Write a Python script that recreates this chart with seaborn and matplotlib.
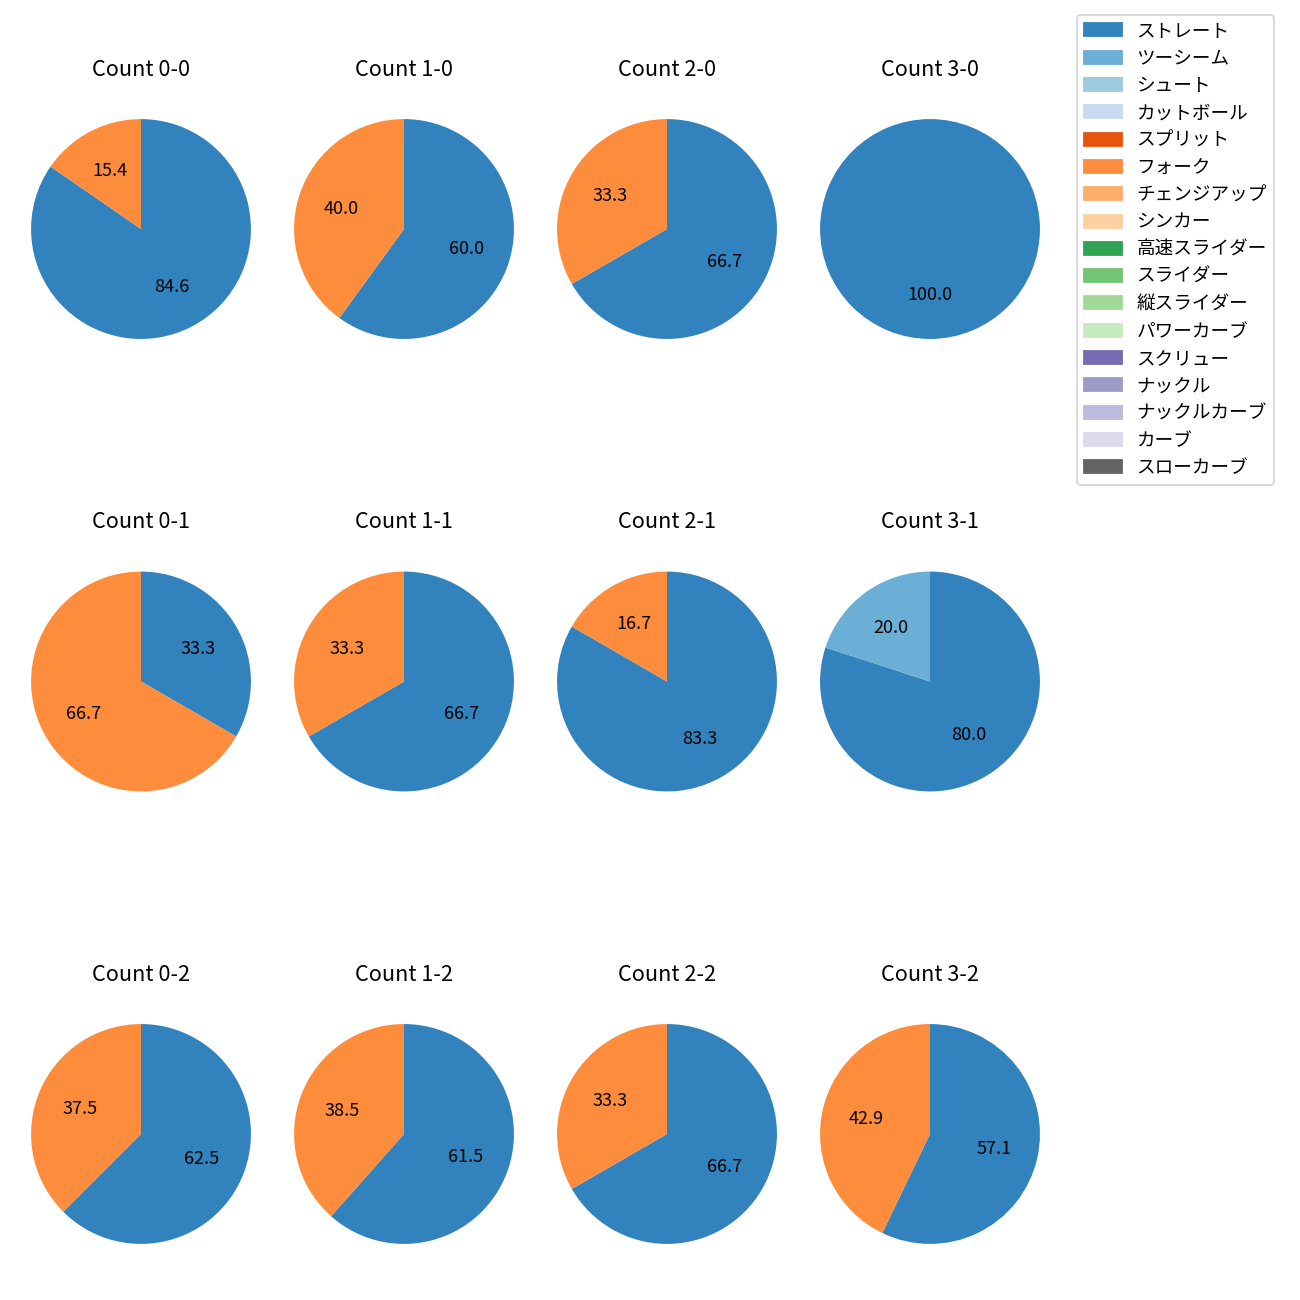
import matplotlib
matplotlib.use("Agg")
import matplotlib.pyplot as plt
import seaborn as sns

plt.rcParams['font.family'] = ['Noto Sans CJK JP', 'DejaVu Sans']

# pitch types (legend order) and counts per ball-strike situation
pitch_types = ['ストレート', 'ツーシーム', 'シュート', 'カットボール', 'スプリット', 'フォーク',
               'チェンジアップ', 'シンカー', '高速スライダー', 'スライダー', '縦スライダー',
               'パワーカーブ', 'スクリュー', 'ナックル', 'ナックルカーブ', 'カーブ', 'スローカーブ']

count_labels = ['0-0', '1-0', '2-0', '3-0',
                '0-1', '1-1', '2-1', '3-1',
                '0-2', '1-2', '2-2', '3-2']

# pitches thrown per count: straight, two-seam, fork (others zero)
straight = [11, 3, 2, 1, 1, 2, 5, 4, 5, 8, 2, 4]
twoseam  = [0, 0, 0, 0, 0, 0, 0, 1, 0, 0, 0, 0]
fork     = [2, 2, 1, 0, 2, 1, 1, 0, 3, 5, 1, 3]

colors = sns.color_palette('tab20c', 20)[:17]
color_map = dict(zip(pitch_types, colors))

fig, axes = plt.subplots(3, 4, figsize=(10, 10), dpi=130)
fig.subplots_adjust(left=9.5 / 1300, right=1061.5 / 1300,
                    top=1 - 79 / 1300, bottom=16 / 1300,
                    wspace=0.0, hspace=0.508)

for i, ax in enumerate(axes.flat):
    vals = {'ストレート': straight[i], 'ツーシーム': twoseam[i], 'フォーク': fork[i]}
    names = [k for k in pitch_types if vals.get(k, 0) > 0]
    sizes = [vals[k] for k in names]
    ax.pie(sizes, colors=[color_map[k] for k in names], startangle=90,
           counterclock=False, autopct='%.1f', radius=1.045,
           textprops={'fontsize': 10})
    ax.set_title('Count ' + count_labels[i], fontsize=12, pad=12)

handles = [plt.Rectangle((0, 0), 1, 1, color=color_map[k]) for k in pitch_types]
fig.legend(handles, pitch_types, loc='upper left', borderaxespad=0,
           bbox_to_anchor=(1077 / 1300, 1 - 15 / 1300), fontsize=10.3)

plt.savefig("out.png")
